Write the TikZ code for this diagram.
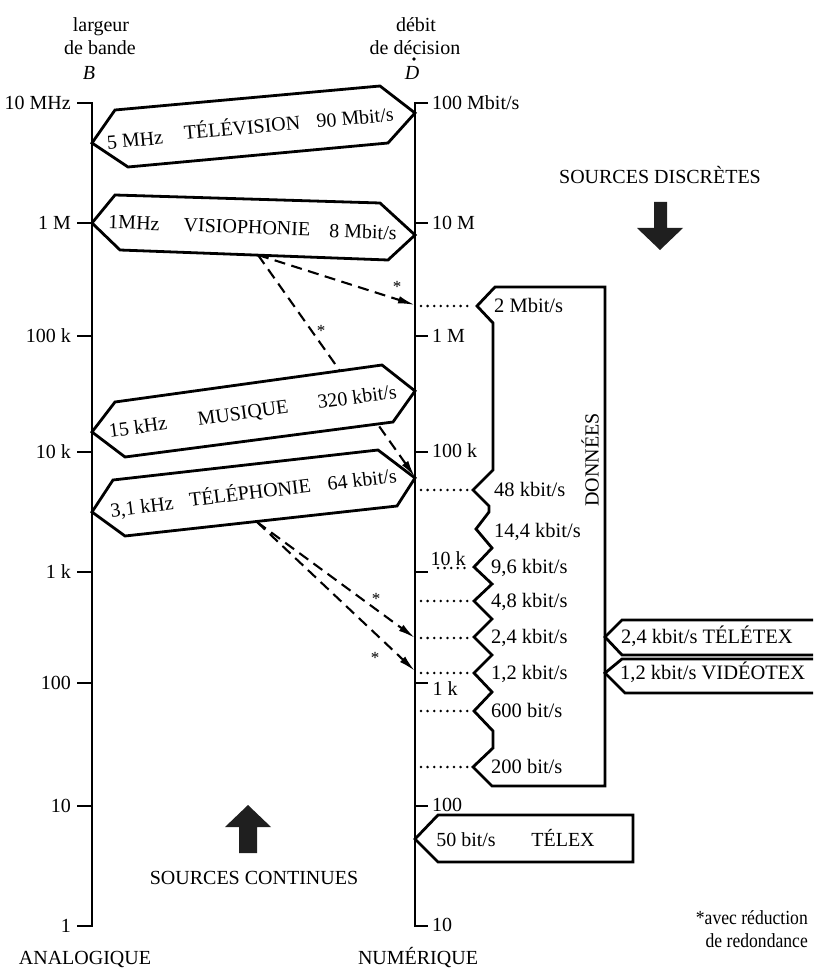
\documentclass[tikz,border=0pt]{standalone}
\usepackage{fontspec}
\setmainfont{Liberation Serif}
\usetikzlibrary{arrows.meta}
\begin{document}
\begin{tikzpicture}[x=1pt,y=-1pt,
  lbl/.style={font=\fontsize{20}{24}\selectfont, inner sep=0pt, text height=13pt, text depth=0pt},
  ratelbl/.style={lbl, font=\fontsize{20.5}{24}\selectfont, anchor=west},
  leftlbl/.style={lbl, anchor=east},
  rightlbl/.style={lbl, anchor=west},
  axisline/.style={line width=2.3pt, line join=miter},
  tickline/.style={line width=2pt},
  boxline/.style={line width=2.8pt, fill=white, line join=miter, miter limit=6},
  leader/.style={line width=2.8pt, dash pattern=on 0pt off 6.6pt, line cap=round},
  dasharrow/.style={line width=2.1pt, dash pattern=on 11pt off 6.5pt, -{Latex[length=17pt,width=7.5pt]}},
  astk/.style={font=\fontsize{17}{18}\selectfont, inner sep=0pt, anchor=base},
  bigarrow/.style={fill=black!88, draw=none}]

\useasboundingbox (0,0) rectangle (813,968);
\clip (0,0) rectangle (813,968);

% ---------- axis headings ----------
\node[lbl] (hB1) at (101,25) {largeur};
\node[lbl] (hB2) at (100,48) {de bande};
\node[lbl] (hB3) at (89,73) {\textit{B}};
\node[lbl] (hD1) at (416,25) {débit};
\node[lbl] (hD2) at (415,48) {de décision};
\node[lbl] (hD3) at (412,73) {\textit{D}};
\fill (414,59) circle (1.8);

% ---------- the two logarithmic axes ----------
\draw[axisline] (77,103) -- (92,103) -- (92,926) -- (77,926);
\draw[axisline] (428,103) -- (415,103) -- (415,926) -- (428,926);
\foreach \lv in {223,336,452,572,683,806} {
  \draw[tickline] (77,\lv) -- (92,\lv);
  \draw[tickline] (415,\lv) -- (428,\lv);
}

% left scale (bandwidth)
\node[leftlbl] (lB0) at (71,103) {10 MHz};
\node[leftlbl] (lB1) at (71,223) {1 M};
\node[leftlbl] (lB2) at (71,336) {100 k};
\node[leftlbl] (lB3) at (71,452) {10 k};
\node[leftlbl] (lB4) at (71,572) {1 k};
\node[leftlbl] (lB5) at (71,683) {100};
\node[leftlbl] (lB6) at (71,806) {10};
\node[leftlbl] (lB7) at (71,926) {1};

% right scale (bit rate)
\node[rightlbl] (rD0) at (432,103) {100 Mbit/s};
\node[rightlbl] (rD1) at (432,223) {10 M};
\node[rightlbl] (rD2) at (432,336) {1 M};
\node[rightlbl] (rD3) at (432,451) {100 k};
\node[lbl] (rD4) at (448,559) {10 k};
\node[lbl] (rD5) at (445,689) {1 k};
\node[rightlbl] (rD6) at (432,805) {100};
\node[rightlbl] (rD7) at (432,925) {10};

\node[lbl] (ana) at (85,958) {ANALOGIQUE};
\node[lbl] (num) at (418,958) {NUMÉRIQUE};

% ---------- conversions with redundancy reduction ----------
\coordinate (vB) at (258,255);
\coordinate (tB) at (257,522);
\coordinate (a2M) at (415,305);
\coordinate (a64k) at (415,477);
\coordinate (a2k4) at (415,638);
\coordinate (a1k2) at (415,671);
\draw[dasharrow] (vB) -- (a2M);
\draw[dasharrow] (vB) -- (a64k);
\draw[dasharrow] (tB) -- (a2k4);
\draw[dasharrow] (tB) -- (a1k2);
\node[astk] (s1) at (397,292) {*};
\node[astk] (s2) at (321,336) {*};
\node[astk] (s3) at (376,604) {*};
\node[astk] (s4) at (375,663) {*};

% ---------- continuous sources ----------
\draw[boxline] (92,143) -- (115,110) -- (380,86) -- (415,113) -- (388,143) -- (128,167) -- cycle;
\node[lbl, rotate=5.2] (tvB) at (135,140) {5 MHz};
\node[lbl, rotate=5.2] (tvN) at (242,128) {TÉLÉVISION};
\node[lbl, rotate=5.2] (tvD) at (355,118) {90 Mbit/s};

\draw[boxline] (92,223) -- (115,195) -- (380,203) -- (415,235) -- (388,260) -- (120,250) -- cycle;
\node[lbl, rotate=-2] (viB) at (134,223) {1MHz};
\node[lbl, rotate=-2] (viN) at (247,227) {VISIOPHONIE};
\node[lbl, rotate=-2] (viD) at (363,232) {8 Mbit/s};

\draw[boxline] (92,432) -- (115,402) -- (382,365) -- (415,391) -- (393,422) -- (125,457) -- cycle;
\node[lbl, rotate=7.7] (muB) at (138,427) {15 kHz};
\node[lbl, rotate=7.7] (muN) at (243,413) {MUSIQUE};
\node[lbl, rotate=7.7] (muD) at (357,397) {320 kbit/s};

\draw[boxline] (92,512) -- (113,480) -- (378,450) -- (415,478) -- (397,506) -- (125,536) -- cycle;
\node[lbl, rotate=7] (teB) at (142,507) {3,1 kHz};
\node[lbl, rotate=7] (teN) at (250,493) {TÉLÉPHONIE};
\node[lbl, rotate=7] (teD) at (362,480) {64 kbit/s};

% ---------- discrete sources: data rates ----------
\draw[boxline] (495,287) -- (605,287) -- (605,786) -- (492,786) -- (473,767)
  -- (493,748) -- (493,731) -- (474,711) -- (492,692) -- (474,673)
  -- (492,655) -- (474,637) -- (492,619) -- (474,601) -- (492,584)
  -- (474,567) -- (492,548) -- (476,529) -- (489,512) -- (489,506)
  -- (473,490) -- (493,470) -- (493,323) -- (477,306) -- cycle;
\node[lbl, rotate=90] (don) at (592,460) {DONNÉES};

\node[ratelbl] (d1) at (494,306) {2 Mbit/s};
\node[ratelbl] (d2) at (494,490) {48 kbit/s};
\node[ratelbl] (d3) at (494,531) {14,4 kbit/s};
\node[ratelbl] (d4) at (491,567) {9,6 kbit/s};
\node[ratelbl] (d5) at (491,601) {4,8 kbit/s};
\node[ratelbl] (d6) at (491,637) {2,4 kbit/s};
\node[ratelbl] (d7) at (491,673) {1,2 kbit/s};
\node[ratelbl] (d8) at (491,711) {600 bit/s};
\node[ratelbl] (d9) at (491,767) {200 bit/s};

% leaders from the rate axis to each rate
\foreach \ya/\xa in {306/421, 490/421, 568/438, 601/421, 638/421, 673/421, 711/421, 767/421} {
  \draw[leader] (\xa,\ya) -- (469,\ya);
}

% videotex services
\draw[boxline] (830,620) -- (622,620) -- (605,637) -- (622,655) -- (830,655);
\draw[boxline] (830,659) -- (622,659) -- (605,673) -- (625,693) -- (830,693);
\node[ratelbl] (ttx) at (621,637) {2,4 kbit/s TÉLÉTEX};
\node[ratelbl] (vtx) at (620,673) {1,2 kbit/s VIDÉOTEX};

% telex
\draw[boxline] (415,839) -- (438,815) -- (633,815) -- (633,862) -- (438,862) -- cycle;
\node[lbl] (txB) at (466,840) {50 bit/s};
\node[lbl] (txN) at (563,840) {TÉLEX};

% ---------- source type markers ----------
\node[lbl] (sd) at (660,177) {SOURCES DISCRÈTES};
\fill[bigarrow] (654,202) -- (667,202) -- (667,228) -- (683,228) -- (660,250)
  -- (637,228) -- (654,228) -- cycle;
\node[lbl] (sc) at (254,878) {SOURCES CONTINUES};
\fill[bigarrow] (239,853) -- (239,827) -- (225,827) -- (248,805) -- (271,827)
  -- (257,827) -- (257,853) -- cycle;

% footnote (set slightly narrow)
\node[lbl, anchor=east] (fn1) at (808,918) {\scalebox{0.88}[1]{*avec réduction}};
\node[lbl, anchor=east] (fn2) at (808,941) {\scalebox{0.88}[1]{de redondance}};
\end{tikzpicture}
\end{document}
